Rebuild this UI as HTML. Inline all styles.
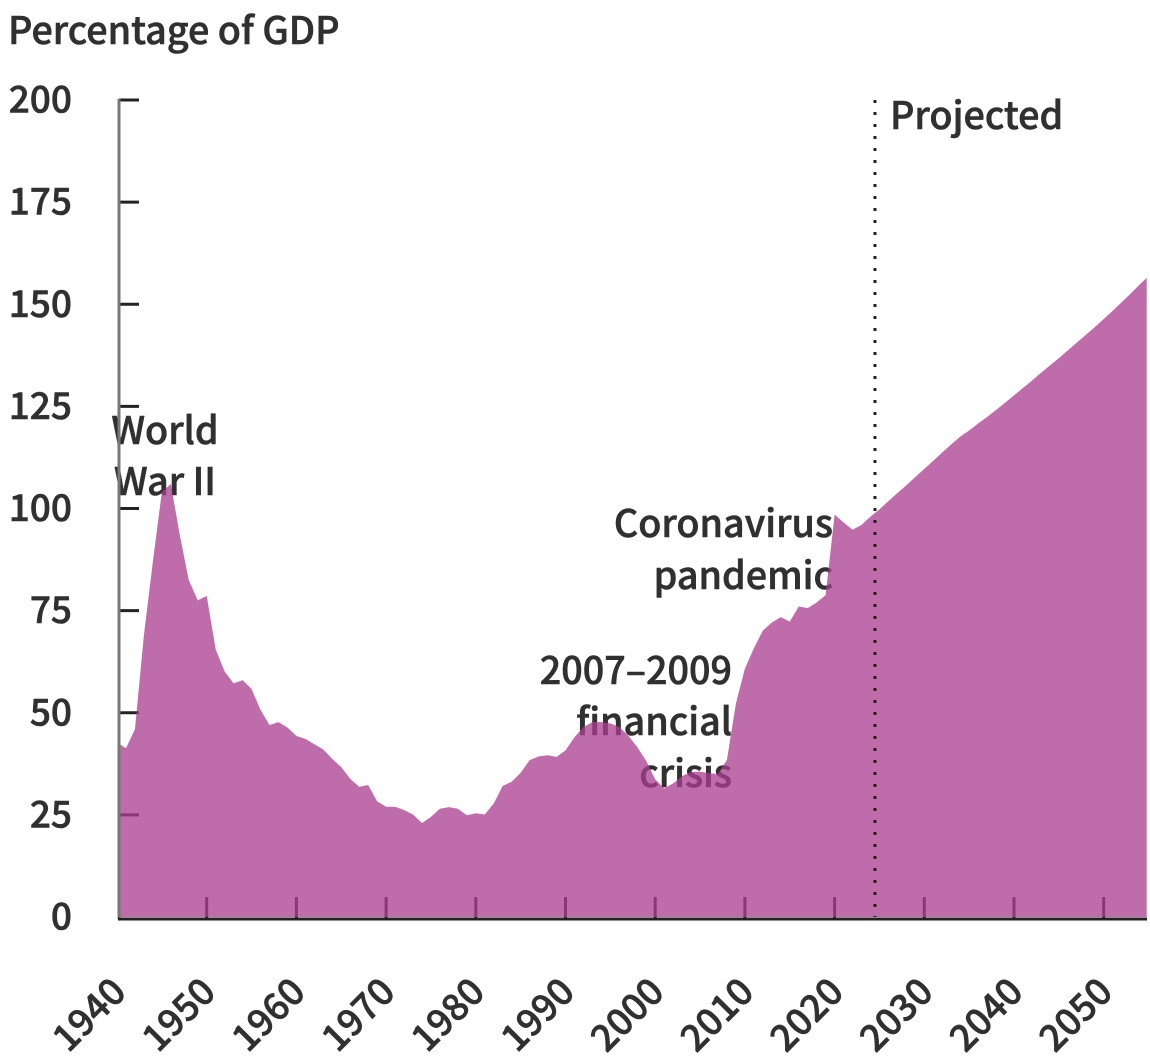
<!DOCTYPE html>
<html lang="en">
<head>
<meta charset="utf-8">
<title>Federal debt as a percentage of GDP</title>
<style>
html,body{margin:0;padding:0;background:#fff;width:1150px;height:1057px;overflow:hidden}
svg{display:block}
text{font-family:"Noto Sans CJK SC","Liberation Sans",sans-serif;font-weight:500;font-size:37.7px;fill:#303030;stroke:#303030;stroke-width:0.6px}
#y-labels text,#x-labels text{font-size:37px}
</style>
</head>
<body>
<svg id="chart" width="1150" height="1057" viewBox="0 0 1150 1057" xmlns="http://www.w3.org/2000/svg">
  <defs><clipPath id="plot-clip"><rect x="119" y="90" width="1027.7" height="830"/></clipPath></defs>
  <text x="8" y="44">Percentage of GDP</text>
  <g id="y-labels"></g>
  <g id="x-labels"></g>
  <g id="ticks"></g>
  <g text-anchor="middle">
    <text x="165" y="444">World</text>
    <text x="165" y="495">War II</text>
  </g>
  <g text-anchor="end">
    <text x="833" y="537">Coronavirus</text>
    <text x="833" y="589">pandemic</text>
  </g>
  <g text-anchor="end">
    <text x="732" y="684">2007–2009</text>
    <text x="732" y="735">financial</text>
    <text x="732" y="787">crisis</text>
  </g>
  <path id="area" fill="#aa3f8f" fill-opacity="0.76" clip-path="url(#plot-clip)"></path>
  <line x1="119" y1="99" x2="119" y2="919" stroke="#777" stroke-width="3"/>
  <line x1="118" y1="919" x2="1147" y2="919" stroke="#222" stroke-width="3"/>
  <line id="proj-line" y1="100" y2="917" stroke="#222" stroke-width="3" stroke-dasharray="3 9"/>
  <text x="890" y="129">Projected</text>
</svg>
<script>
const startYear = 1940;
const debtValues = [
42.7,41.3,46,69,87,104,106,93.5,82.5,77.5,78.6,65.5,60.1,57.2,58,55.8,50.7,47,47.7,46.4,
44.3,43.6,42.3,41,38.7,36.7,33.8,31.9,32.3,28.3,27,27,26.2,25.1,23,24.5,26.5,26.9,26.5,24.9,
25.4,25.1,27.8,32.1,33.1,35.3,38.4,39.3,39.6,39.2,40.8,44,46.5,47.7,47.7,47.4,46.5,44.4,41.6,38.2,
33.7,31.5,32.7,34.5,35.5,35.6,35.2,35,38.5,52.3,60.8,65.8,70.1,72.1,73.4,72.3,76,75.6,77,78.8,
98.5,96.6,94.8,96,98,99.8,101.8,103.8,105.7,107.7,109.7,111.7,113.7,115.7,117.6,119.1,120.8,122.4,124.1,125.9,
127.7,129.5,131.3,133.2,135,136.8,138.7,140.6,142.5,144.4,146.4,148.4,150.5,152.6,154.8,156.9
];
const yTickValues = [0,25,50,75,100,125,150,175,200];
const xTickYears = [1940,1950,1960,1970,1980,1990,2000,2010,2020,2030,2040,2050];
const projectionYear = 2024.5;

const svgNS = 'http://www.w3.org/2000/svg';
function xScale(year){ return 117 + (year - 1940) * 8.97; }
function yScale(v){ return 917 - v * 4.085; }

const ticksG = document.getElementById('ticks');
const yLabelsG = document.getElementById('y-labels');
const xLabelsG = document.getElementById('x-labels');

yTickValues.forEach(function(v){
  const y = yScale(v);
  if (v > 0) {
    const t = document.createElementNS(svgNS, 'line');
    
    
    t.setAttribute('x1', 119);
    t.setAttribute('x2', 139);
    t.setAttribute('y1', y);
    t.setAttribute('y2', y);
    t.setAttribute('stroke', '#222');
    t.setAttribute('stroke-width', 3);
    ticksG.appendChild(t);
  }
  const l = document.createElementNS(svgNS, 'text');
  
  
  l.setAttribute('x', 72);
  l.setAttribute('y', y + 12.5);
  l.setAttribute('text-anchor', 'end');
  l.textContent = v;
  yLabelsG.appendChild(l);
});

xTickYears.forEach(function(yr){
  const x = xScale(yr);
  if (yr > 1940) {
    const t = document.createElementNS(svgNS, 'line');
    
    
    t.setAttribute('x1', x);
    t.setAttribute('x2', x);
    t.setAttribute('y1', 897);
    t.setAttribute('y2', 918);
    t.setAttribute('stroke', '#222');
    t.setAttribute('stroke-width', 3);
    ticksG.appendChild(t);
  }
  const l = document.createElementNS(svgNS, 'text');
  
  
  l.setAttribute('text-anchor', 'end');
  l.setAttribute('transform', 'translate(' + (x + 11) + ',994) rotate(-45)');
  l.textContent = yr;
  xLabelsG.appendChild(l);
});

let d = 'M' + xScale(startYear) + ',' + yScale(0);
debtValues.forEach(function(v, i){
  d += 'L' + xScale(startYear + i).toFixed(2) + ',' + yScale(v).toFixed(2);
});
d += 'L' + xScale(startYear + debtValues.length - 1).toFixed(2) + ',' + yScale(0) + 'Z';
document.getElementById('area').setAttribute('d', d);

const proj = document.getElementById('proj-line');
proj.setAttribute('x1', xScale(projectionYear));
proj.setAttribute('x2', xScale(projectionYear));
</script>
</body>
</html>
